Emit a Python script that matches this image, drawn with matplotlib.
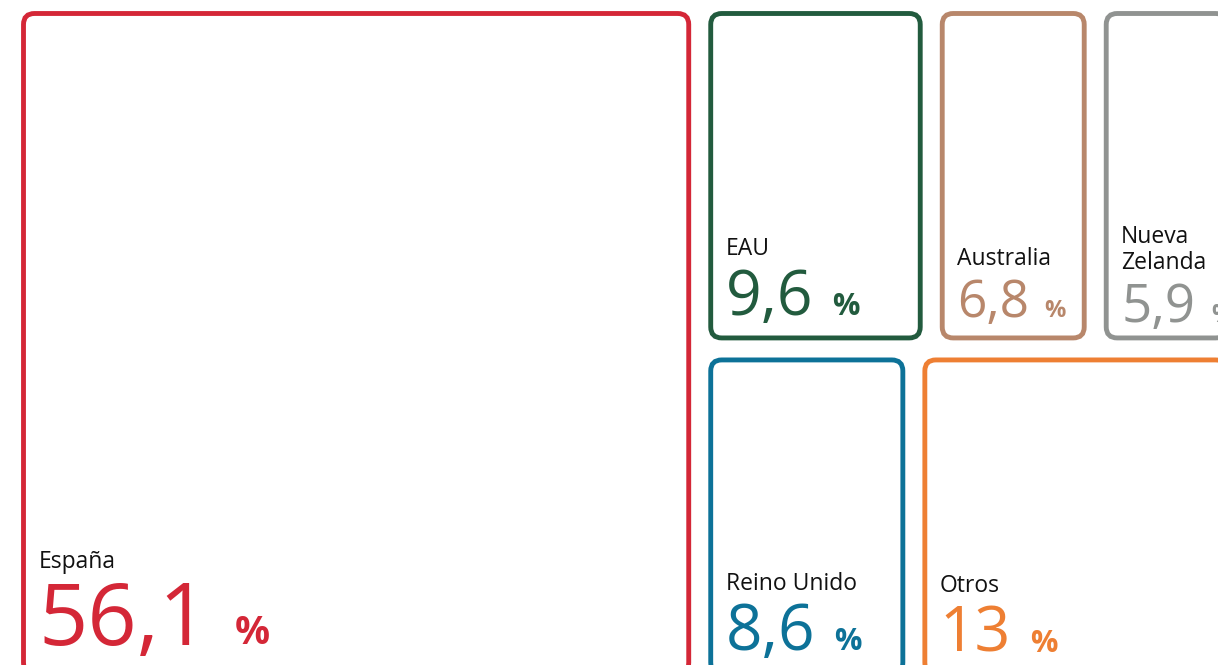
import matplotlib
matplotlib.use('Agg')
import matplotlib.pyplot as plt
from matplotlib.patches import FancyBboxPatch

# data: share of total (%) per market
names = ['España', 'EAU', 'Australia', 'Nueva\nZelanda', 'Reino Unido', 'Otros']
values = [56.1, 9.6, 6.8, 5.9, 8.6, 13]
value_labels = ['56,1', '9,6', '6,8', '5,9', '8,6', '13']
# treemap arrangement: first item is a full-height column, the rest in rows
rows = [[1, 2, 3], [4, 5]]

# styles
colors = ['#D42737', '#225B3E', '#B8876B', '#909391', '#0D7298', '#EE7F33']
num_size = [62, 45, 37, 38, 46, 45]      # pt
pct_size = [28, 22, 17, 18, 22, 22]      # pt
num_pad = [29, 23, 21, 16, 23, 22]       # px, baseline above box bottom

# canvas (pixel units, part of it falls outside the picture)
X0, Y0, W, H = 12.5, 2.5, 1225, 682
INSET = 11
FIG_W, FIG_H = 1218, 665

# slice-and-dice layout from the values
total = sum(values)
cells = {}
w0 = W * values[0] / total
cells[0] = (X0, Y0, w0, H)
rest = sum(values[1:])
y = Y0
for row in rows:
    row_sum = sum(values[i] for i in row)
    rh = H * row_sum / rest
    x = X0 + w0
    for i in row:
        cw = (W - w0) * values[i] / row_sum
        cells[i] = (x, y, cw, rh)
        x += cw
    y += rh

fig = plt.figure(figsize=(FIG_W / 100, FIG_H / 100), dpi=100)
ax = fig.add_axes([0, 0, 1, 1])
ax.set_xlim(0, FIG_W)
ax.set_ylim(FIG_H, 0)
ax.axis('off')

px2pt = 72 / 100
nums = []
for i in range(len(values)):
    cx, cy, cw, ch = cells[i]
    bx, by = cx + INSET, cy + INSET
    bw, bh = cw - 2 * INSET, ch - 2 * INSET
    ax.add_patch(FancyBboxPatch((bx, by), bw, bh,
                                boxstyle='round,pad=0,rounding_size=11',
                                fc='white', ec=colors[i], lw=3.5))
    base = by + bh - num_pad[i]
    t = ax.text(bx + 15, base, value_labels[i], fontsize=num_size[i],
                color=colors[i], family='Open Sans', va='baseline', ha='left')
    nums.append((t, base, i))
    # name label above the number
    cap = num_size[i] / px2pt * 0.714
    name_base = base - cap - 15
    for k, line in enumerate(reversed(names[i].split('\n'))):
        ax.text(bx + 15, name_base - k * 26, line, fontsize=16.5,
                color='#111111', family='Open Sans', va='baseline', ha='left')

fig.canvas.draw()
inv = ax.transData.inverted()
for t, base, i in nums:
    bb = t.get_window_extent()
    x_end = inv.transform((bb.x1, bb.y0))[0]
    gap = 0.3 * num_size[i] / px2pt
    ax.text(x_end + gap, base, '%', fontsize=pct_size[i], color=colors[i],
            family='Open Sans', fontweight='bold', va='baseline', ha='left')

fig.savefig('out.png', dpi=100)
